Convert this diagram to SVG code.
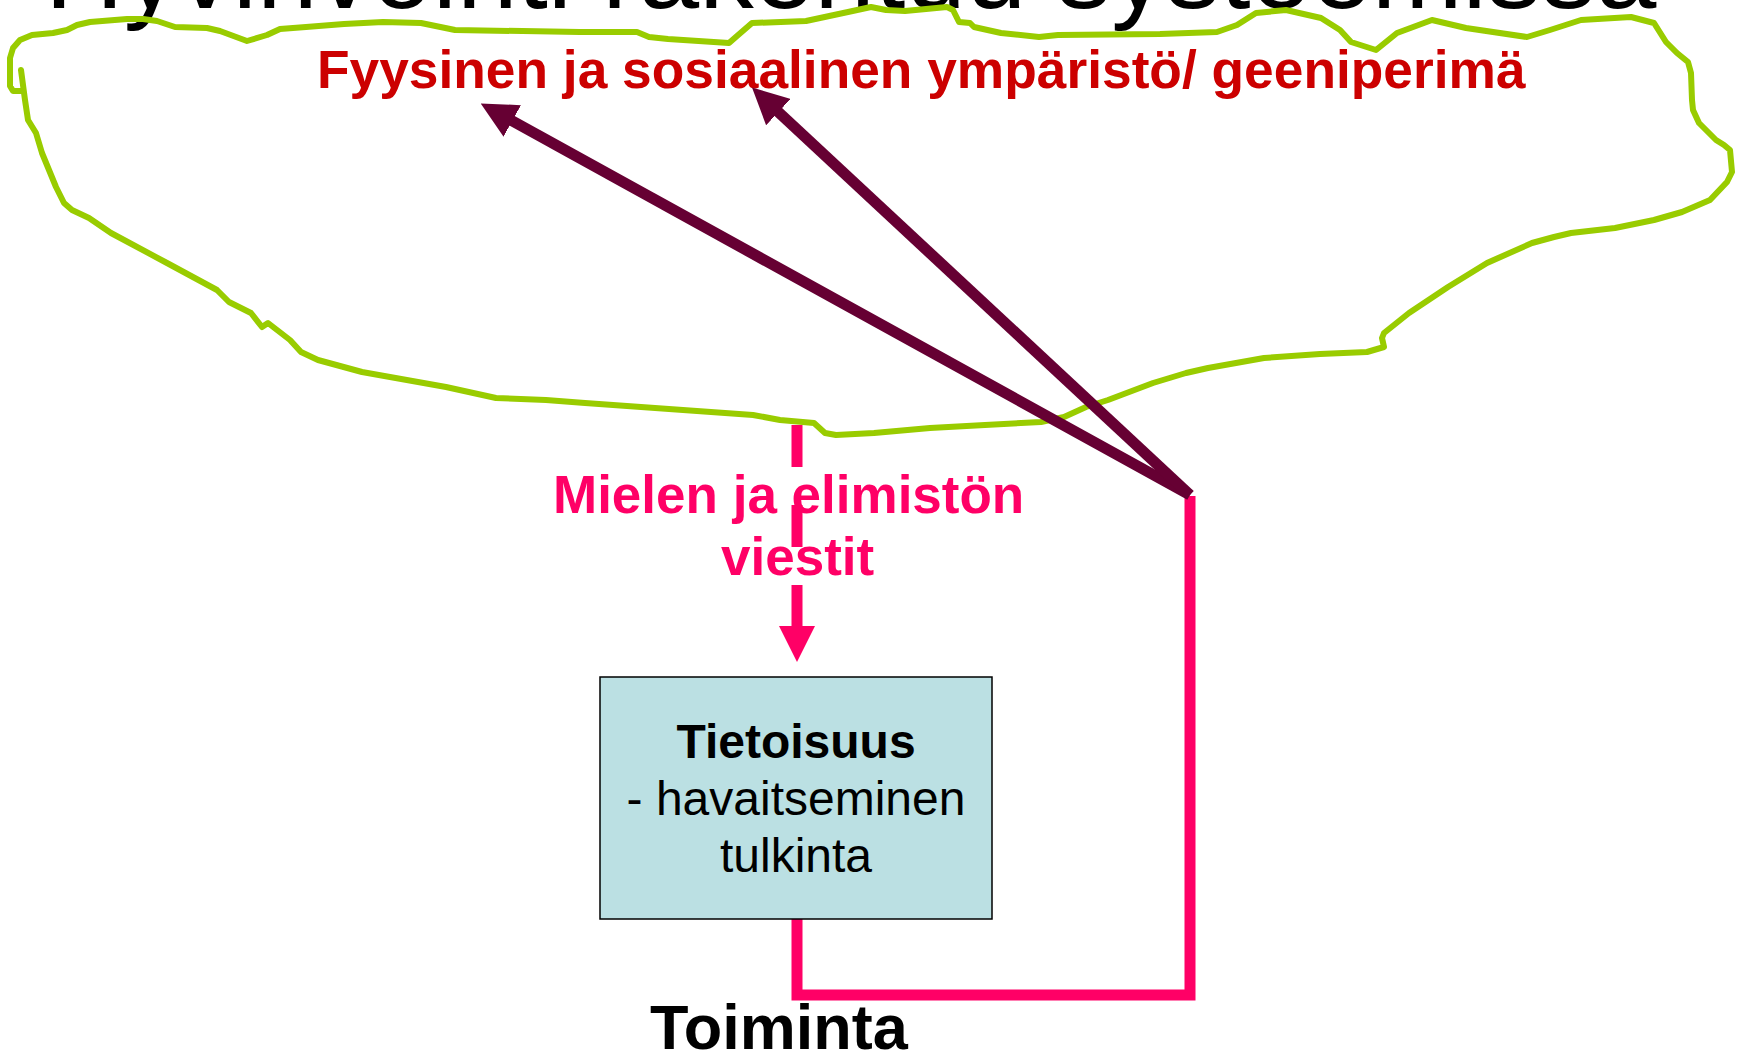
<svg xmlns="http://www.w3.org/2000/svg" width="1748" height="1056" viewBox="0 0 1748 1056">
  <style>
    .title { font-family: "Liberation Sans", Arial, sans-serif; font-size: 109px; fill: #000000; }
    .env { font-family: "Liberation Sans", Arial, sans-serif; font-size: 53.3px; font-weight: bold; fill: #CC0000; }
    .msg { font-family: "Liberation Sans", Arial, sans-serif; font-size: 53px; font-weight: bold; fill: #FF0066; }
    .boxb { font-family: "Liberation Sans", Arial, sans-serif; font-size: 48px; font-weight: bold; fill: #000000; }
    .boxr { font-family: "Liberation Sans", Arial, sans-serif; font-size: 48px; fill: #000000; }
    .act { font-family: "Liberation Sans", Arial, sans-serif; font-size: 63px; font-weight: bold; fill: #000000; }
    .cloud { fill: none; stroke: #99CC00; stroke-width: 6; stroke-linejoin: round; stroke-linecap: round; }
    .purple { fill: none; stroke: #660033; stroke-width: 11; }
    .pink { fill: none; stroke: #FF0066; stroke-width: 11; }
  </style>
  <defs>
    <marker id="headPurple" markerUnits="userSpaceOnUse" markerWidth="36" markerHeight="36" viewBox="0 0 36 36" refX="6" refY="18" orient="auto">
      <path d="M0,0 L36,18 L0,36 z" fill="#660033"/>
    </marker>
    <marker id="headPink" markerUnits="userSpaceOnUse" markerWidth="36" markerHeight="36" viewBox="0 0 36 36" refX="6" refY="18" orient="auto">
      <path d="M0,0 L36,18 L0,36 z" fill="#FF0066"/>
    </marker>
  </defs>

  <g id="title">
    <text class="title" x="45" y="8">Hyvinvointi rakentuu systeemissä</text>
  </g>

  <g id="environment-cloud">
    <path class="cloud" d="M20,91 L13,91 L10,86 L10,58 L13,48 L20,40 L32,35 L53,33 L67,30 L77,25 L90,22 L127,19 L143,19 L157,21 L175,27 L207,28 L220,31 L247,41 L267,35 L280,29 L306,27 L344,24 L383,22 L421,23 L455,30 L580,32 L637,32 L649,37 L668,39 L729,43 L737,36 L752,23 L806,21 L848,12 L871,7 L886,10 L905,11 L947,7 L953,10 L959,22 L970,23 L974,27 L1001,33 L1039,37 L1058,35 L1160,34 L1217,32 L1237,25 L1256,13 L1286,10 L1321,18 L1340,30 L1351,42 L1376,50 L1397,33 L1432,20 L1466,28 L1527,37 L1550,30 L1581,20 L1631,17 L1654,23 L1666,42 L1677,53 L1688,62 L1691,73 L1692,100 L1693,110 L1699,123 L1716,140 L1724,145 L1730,150 L1732,172 L1727,182 L1710,200 L1682,212 L1654,220 L1615,228 L1571,233 L1554,237 L1532,243 L1487,263 L1448,287 L1409,313 L1384,333 L1382,338 L1384,347 L1367,352 L1320,354 L1264,358 L1208,368 L1186,373 L1153,383 L1108,400 L1086,407 L1064,417 L1041,422 L985,425 L930,428 L874,433 L836,435 L825,433 L814,423 L780,420 L753,415 L585,403 L546,400 L496,398 L446,387 L362,372 L318,360 L301,352 L290,340 L268,323 L262,327 L251,313 L229,302 L217,290 L167,263 L111,233 L89,218 L72,210 L64,203 L56,187 L42,153 L36,133 L28,120 L25,100 L21,70"/>
    <text class="env" x="317" y="88">Fyysinen ja sosiaalinen ympäristö/ geeniperimä</text>
  </g>

  <g id="connectors">
    <line class="pink" x1="797" y1="425" x2="797" y2="632" stroke-dasharray="42 38" marker-end="url(#headPink)"/>
    <polyline class="pink" points="797,919 797,995 1190,995 1190,496"/>
    <line class="purple" x1="1190" y1="495" x2="507" y2="118" marker-end="url(#headPurple)"/>
    <line class="purple" x1="1190" y1="495" x2="774" y2="108" marker-end="url(#headPurple)"/>
  </g>

  <g id="messages-label">
    <text class="msg" x="553" y="513">Mielen ja elimistön</text>
    <text class="msg" x="721" y="575">viestit</text>
  </g>

  <g id="awareness">
    <rect x="600" y="677" width="392" height="242" fill="#BBE0E3" stroke="#000000" stroke-width="1.5"/>
    <text class="boxb" x="796" y="758" text-anchor="middle">Tietoisuus</text>
    <text class="boxr" x="796" y="815" text-anchor="middle">- havaitseminen</text>
    <text class="boxr" x="796" y="872" text-anchor="middle">tulkinta</text>
  </g>

  <g id="action">
    <text class="act" x="650" y="1049">Toiminta</text>
  </g>
</svg>
